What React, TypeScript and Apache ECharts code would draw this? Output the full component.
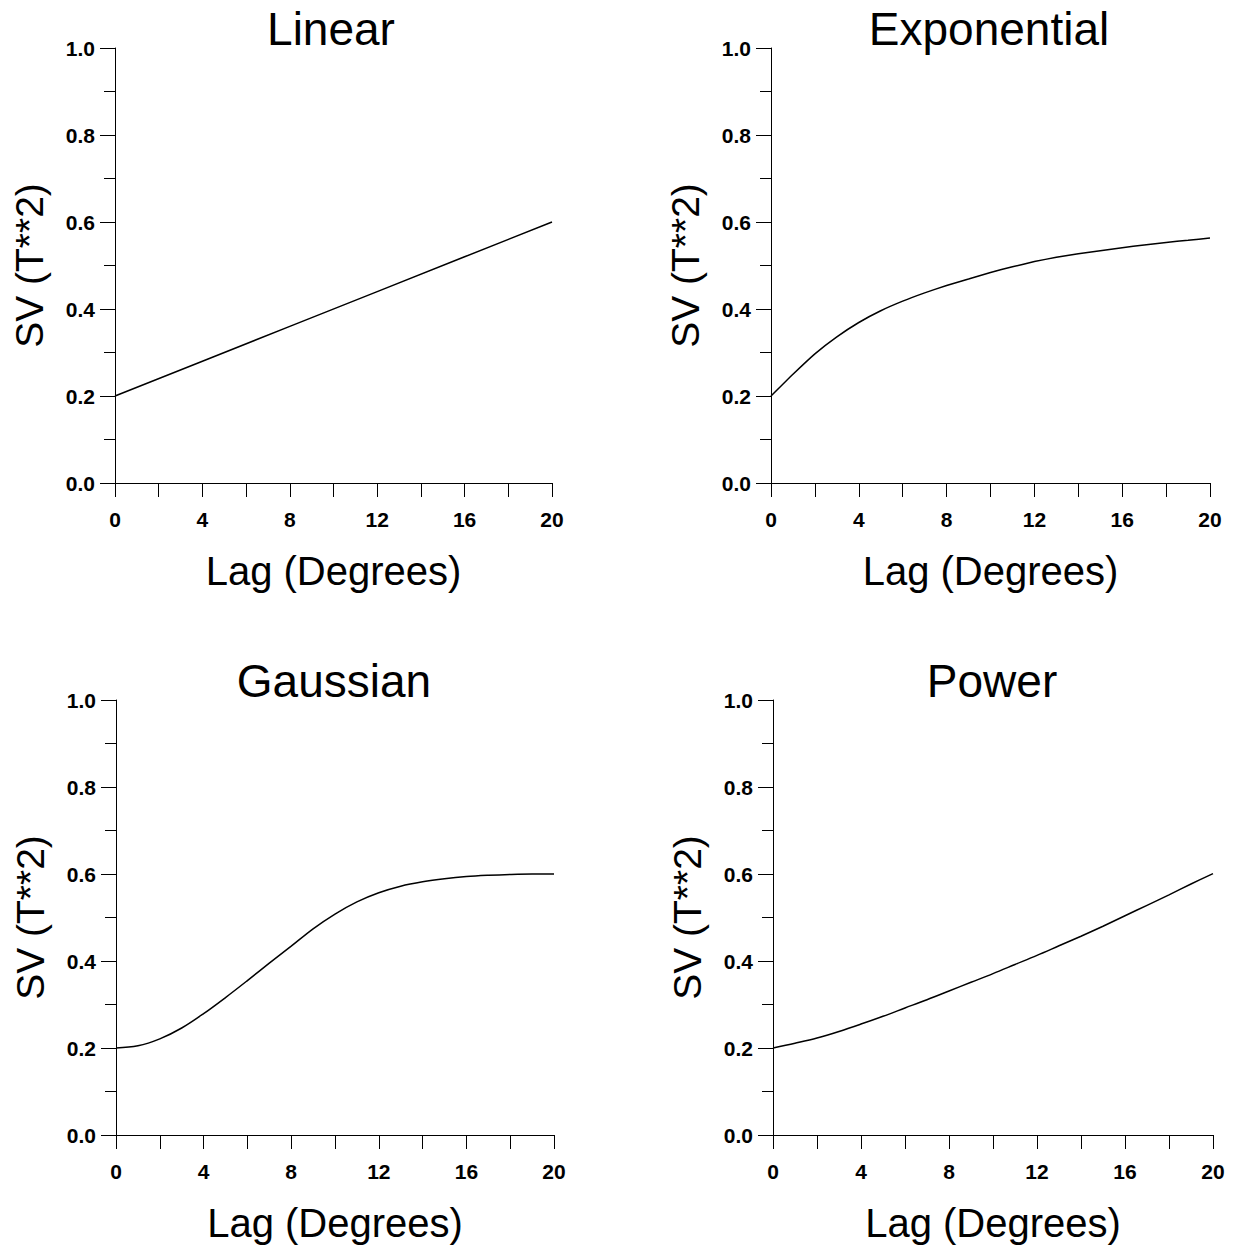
import React, { useEffect, useRef } from "react";
import * as echarts from "echarts";

const panelTitles = ["Linear", "Exponential", "Gaussian", "Power"];
const xAxisName = "Lag (Degrees)";
const yAxisName = "SV (T**2)";

const lagsLinear = [0, 4, 8, 12, 16, 20];
const svLinear = [0.2, 0.28, 0.36, 0.44, 0.52, 0.6];

const lags = [0, 1, 2, 3, 4, 5, 6, 7, 8, 9, 10, 11, 12, 13, 14, 15, 16, 17, 18, 19, 20];
const svExponential = [0.2, 0.25, 0.297, 0.336, 0.369, 0.396, 0.418, 0.437, 0.454, 0.469, 0.484, 0.497, 0.509, 0.519, 0.527, 0.534, 0.541, 0.547, 0.553, 0.558, 0.563];
const svGaussian = [0.2, 0.205, 0.221, 0.246, 0.279, 0.316, 0.355, 0.395, 0.434, 0.474, 0.508, 0.536, 0.557, 0.572, 0.582, 0.589, 0.594, 0.597, 0.599, 0.6, 0.6];
const svPower = [0.2, 0.211, 0.223, 0.238, 0.255, 0.273, 0.292, 0.311, 0.331, 0.351, 0.371, 0.392, 0.413, 0.435, 0.457, 0.48, 0.504, 0.528, 0.552, 0.577, 0.601];

const FONT = '"Liberation Sans", Arial, Helvetica, sans-serif';

const grids = [
  { left: 115, top: 48, width: 437, height: 435 },
  { left: 771, top: 48, width: 439, height: 435 },
  { left: 116, top: 700, width: 438, height: 435 },
  { left: 773, top: 700, width: 440, height: 435 },
];
const titlePos = [
  { x: 331, y: 29 },
  { x: 989, y: 29 },
  { x: 334, y: 681 },
  { x: 992, y: 681 },
];
const smoothness = [0, 0.15, 0.35, 0.35];

export default function App() {
  const ref = useRef<HTMLDivElement>(null);
  useEffect(() => {
    if (!ref.current) return;
    const chart = echarts.init(ref.current, undefined, { renderer: "svg" });
    const seriesData = [
      lagsLinear.map((x, i) => [x, svLinear[i]]),
      lags.map((x, i) => [x, svExponential[i]]),
      lags.map((x, i) => [x, svGaussian[i]]),
      lags.map((x, i) => [x, svPower[i]]),
    ];
    const black = "#000";
    const option: any = {
      animation: false,
      backgroundColor: "#fff",
      grid: grids.map((g) => ({ ...g, containLabel: false })),
      xAxis: grids.map((_, i) => ({
        gridIndex: i,
        type: "value",
        min: 0,
        max: 20,
        interval: 4,
        name: xAxisName,
        nameLocation: "middle",
        nameGap: 68,
        nameTextStyle: { fontSize: 40, fontFamily: FONT, color: black },
        axisLine: { show: true, onZero: false, lineStyle: { color: black, width: 1 } },
        axisTick: { show: true, length: 14, lineStyle: { color: black, width: 1 } },
        minorTick: { show: true, splitNumber: 2, length: 14, lineStyle: { color: black, width: 1 } },
        axisLabel: { margin: 26, fontSize: 21, fontWeight: "bold", fontFamily: FONT, color: black },
        splitLine: { show: false },
        minorSplitLine: { show: false },
      })),
      yAxis: grids.map((_, i) => ({
        gridIndex: i,
        type: "value",
        min: 0,
        max: 1,
        interval: 0.2,
        name: yAxisName,
        nameLocation: "middle",
        nameRotate: 90,
        nameGap: 66,
        nameTextStyle: { fontSize: 39, fontFamily: FONT, color: black },
        axisLine: { show: true, onZero: false, lineStyle: { color: black, width: 1 } },
        axisTick: { show: true, length: 15, lineStyle: { color: black, width: 1 } },
        minorTick: { show: true, splitNumber: 2, length: 11, lineStyle: { color: black, width: 1 } },
        axisLabel: {
          margin: 20,
          fontSize: 21,
          fontWeight: "bold",
          fontFamily: FONT,
          color: black,
          formatter: (v: number) => v.toFixed(1),
        },
        splitLine: { show: false },
        minorSplitLine: { show: false },
      })),
      series: seriesData.map((d, i) => ({
        type: "line",
        xAxisIndex: i,
        yAxisIndex: i,
        data: d,
        showSymbol: false,
        symbol: "none",
        smooth: smoothness[i] > 0 ? smoothness[i] : false,
        lineStyle: { color: black, width: 1.5 },
      })),
      graphic: panelTitles.map((t, i) => ({
        type: "text",
        x: titlePos[i].x,
        y: titlePos[i].y,
        style: {
          text: t,
          fontSize: 46,
          fontFamily: FONT,
          fill: black,
          textAlign: "center",
          textVerticalAlign: "middle",
        },
      })),
    };
    chart.setOption(option);
    return () => chart.dispose();
  }, []);
  return (
    <div
      ref={ref}
      style={{ position: "fixed", left: 0, top: 0, width: 1234, height: 1247, background: "#fff" }}
    />
  );
}
